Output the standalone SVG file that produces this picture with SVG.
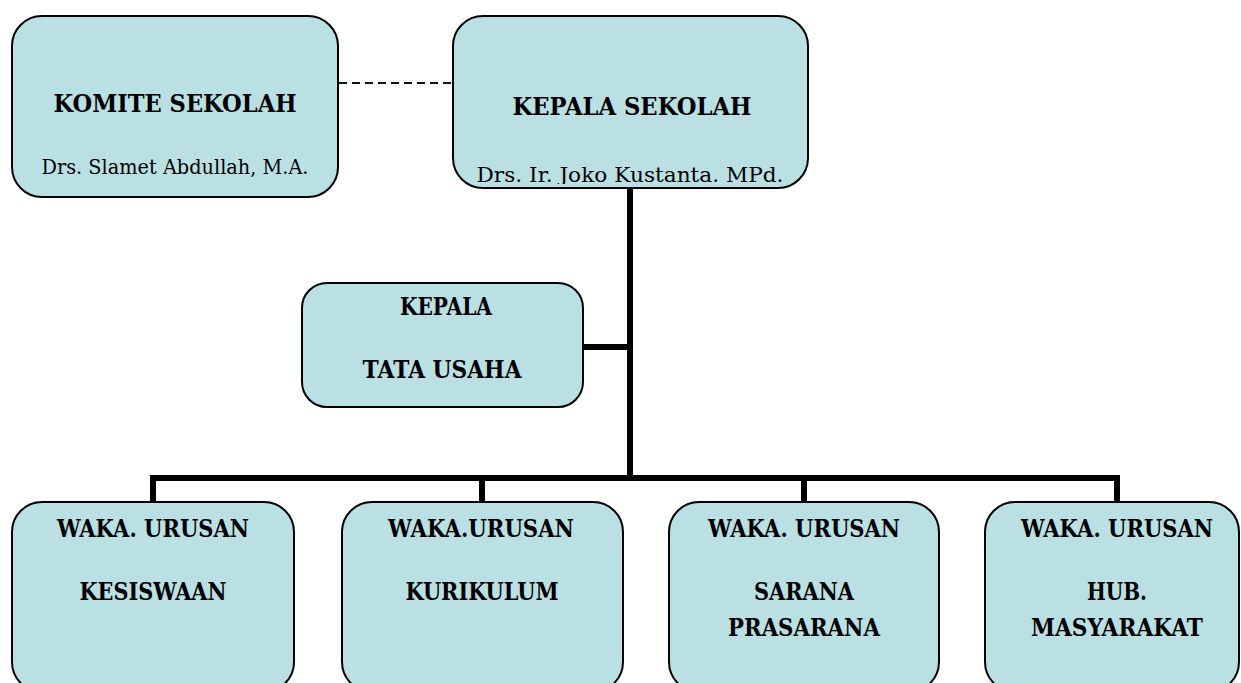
<svg xmlns="http://www.w3.org/2000/svg" width="1241" height="683" viewBox="0 0 1241 683">
<style>
.box{fill:#BAE0E3;stroke:#000;stroke-width:2}
.t{font-family:"DejaVu Serif","Liberation Serif",serif;font-weight:bold;font-size:25px;fill:#000;text-anchor:middle}
.n{font-family:"DejaVu Serif","Liberation Serif",serif;font-size:21px;fill:#000;text-anchor:middle}
.c{fill:none;stroke:#000;stroke-width:6;stroke-linejoin:miter}
.d{fill:none;stroke:#111;stroke-width:2;stroke-dasharray:8 5}
</style>
<defs>
<clipPath id="kclip"><rect x="453" y="16" width="355" height="168"/></clipPath>
</defs>
<rect width="1241" height="683" fill="#fff"/>
<g id="connectors">
<line class="d" x1="339" y1="83" x2="453" y2="83"/>
<line class="c" x1="630" y1="188" x2="630" y2="478"/>
<line class="c" x1="583" y1="347" x2="630" y2="347"/>
<path class="c" d="M153,503 V478 H1117 V503"/>
<line class="c" x1="482" y1="478" x2="482" y2="503"/>
<line class="c" x1="804" y1="478" x2="804" y2="503"/>
</g>
<g id="komite">
<rect class="box" x="12" y="16" width="326" height="181" rx="30" ry="30"/>
<text class="t" x="175" y="112" font-size="27" textLength="243" lengthAdjust="spacingAndGlyphs">KOMITE SEKOLAH</text>
<text class="n" x="175" y="174" textLength="267" lengthAdjust="spacingAndGlyphs">Drs. Slamet Abdullah, M.A.</text>
</g>
<g id="kepala-sekolah">
<rect class="box" x="453" y="16" width="355" height="172" rx="30" ry="30"/>
<text class="t" x="632" y="115" font-size="27" textLength="239" lengthAdjust="spacingAndGlyphs">KEPALA SEKOLAH</text>
<text class="n" x="630" y="182" textLength="307" lengthAdjust="spacingAndGlyphs" clip-path="url(#kclip)">Drs. Ir. Joko Kustanta. MPd.</text>
</g>
<g id="tata-usaha">
<rect class="box" x="302" y="283" width="281" height="124" rx="25" ry="25"/>
<text class="t" x="446" y="315" textLength="92" lengthAdjust="spacingAndGlyphs">KEPALA</text>
<text class="t" x="442" y="378" textLength="159" lengthAdjust="spacingAndGlyphs">TATA USAHA</text>
</g>
<g id="kesiswaan">
<rect class="box" x="12" y="502" width="282" height="190" rx="30" ry="30"/>
<text class="t" x="153" y="537" textLength="192" lengthAdjust="spacingAndGlyphs">WAKA. URUSAN</text>
<text class="t" x="153" y="600" textLength="147" lengthAdjust="spacingAndGlyphs">KESISWAAN</text>
</g>
<g id="kurikulum">
<rect class="box" x="342" y="502" width="281" height="190" rx="30" ry="30"/>
<text class="t" x="481" y="537" textLength="186" lengthAdjust="spacingAndGlyphs">WAKA.URUSAN</text>
<text class="t" x="482" y="600" textLength="153" lengthAdjust="spacingAndGlyphs">KURIKULUM</text>
</g>
<g id="sarana">
<rect class="box" x="669" y="502" width="270" height="190" rx="30" ry="30"/>
<text class="t" x="804" y="537" textLength="192" lengthAdjust="spacingAndGlyphs">WAKA. URUSAN</text>
<text class="t" x="804" y="600" textLength="100" lengthAdjust="spacingAndGlyphs">SARANA</text>
<text class="t" x="804" y="636" textLength="152" lengthAdjust="spacingAndGlyphs">PRASARANA</text>
</g>
<g id="humas">
<rect class="box" x="985" y="502" width="254" height="190" rx="30" ry="30"/>
<text class="t" x="1117" y="537" textLength="192" lengthAdjust="spacingAndGlyphs">WAKA. URUSAN</text>
<text class="t" x="1117" y="600" textLength="60" lengthAdjust="spacingAndGlyphs">HUB.</text>
<text class="t" x="1117" y="636" textLength="172" lengthAdjust="spacingAndGlyphs">MASYARAKAT</text>
</g>
</svg>
